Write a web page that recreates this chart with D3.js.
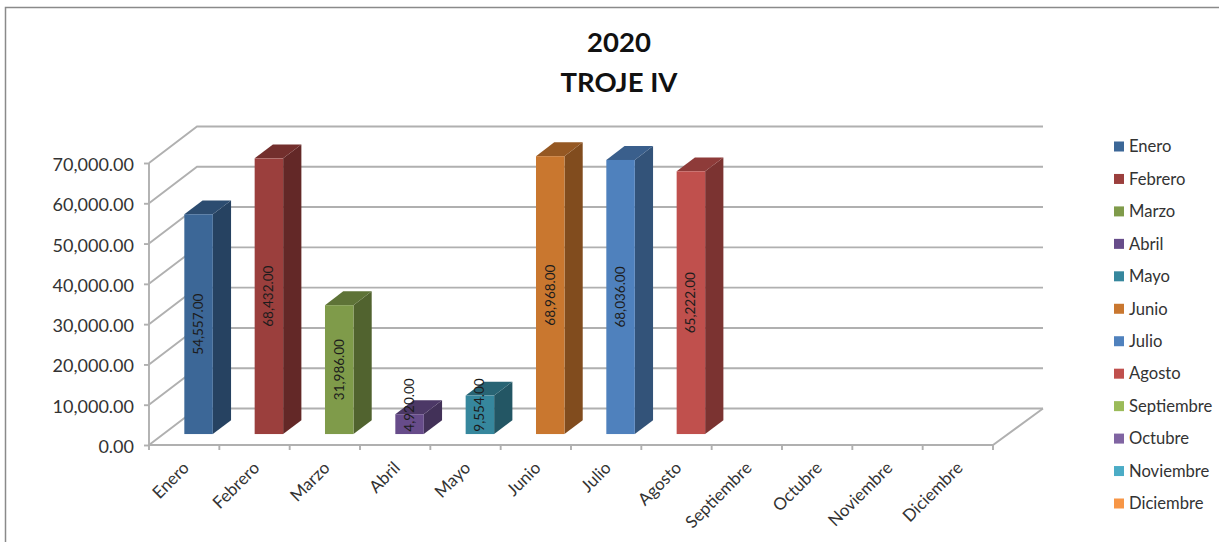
<!DOCTYPE html>
<html>
<head>
<meta charset="utf-8">
<script src="https://cdn.jsdelivr.net/npm/d3@7"></script>
<style>
    html, body { margin: 0; padding: 0; background: #fff; overflow: hidden; }
    svg { display: block; }
    text { font-family: Lato, "Open Sans", sans-serif; fill: #333; }
</style>
</head>
<body>
<svg id="chart" width="1219" height="542"></svg>
<script>
const titleLines = ["2020", "TROJE IV"];
const months = ["Enero", "Febrero", "Marzo", "Abril", "Mayo", "Junio", "Julio", "Agosto",
    "Septiembre", "Octubre", "Noviembre", "Diciembre"];
const values = [54557, 68432, 31986, 4920, 9554, 68968, 68036, 65222, null, null, null, null];
const yTicks = [0, 10000, 20000, 30000, 40000, 50000, 60000, 70000];
const colors = ["#3c6797", "#9b3f3d", "#7f9b4a", "#674c8a", "#36879d", "#c9772f",
    "#4f81bd", "#c0504d", "#9bbb59", "#8064a2", "#4bacc6", "#f79646"];

const svg = d3.select("#chart");
const gridColor = "#b0b0b0";
const gridWidth = 1.9;

// front plane of the 3d box, the back wall is this shifted by the depth
const x = d3.scaleBand().domain(months).range([149, 993]).paddingInner(0.595).paddingOuter(0.2975);
const y = d3.scaleLinear().domain([0, 70000]).range([445, 163]);
const depth = {x: 48, y: -36.5};
const barDepth = {start: 0.3, end: 0.68};
const wallRight = 1043;

// Frame of the pasted picture
svg.append("path")
    .attr("d", "M5.5,542V7.5H1219")
    .attr("fill", "none")
    .attr("stroke", "#8a8a8a")
    .attr("stroke-width", 1.5);

// Title
svg.selectAll(".title")
    .data(titleLines)
    .enter().append("text")
    .attr("class", "title")
    .attr("x", 619)
    .attr("y", (d, i) => 52 + i * 40)
    .attr("text-anchor", "middle")
    .attr("font-size", 27.5)
    .attr("font-weight", 700)
    .style("fill", "#111")
    .text(d => d);

// Back wall gridlines and the diagonals on the side wall
const grid = svg.append("g")
    .attr("fill", "none")
    .attr("stroke", gridColor)
    .attr("stroke-width", gridWidth);

grid.selectAll(".wall")
    .data(yTicks)
    .enter().append("polyline")
    .attr("class", "wall")
    .attr("points", d => [
        [149, y(d)],
        [149 + depth.x, y(d) + depth.y],
        [wallRight, y(d) + depth.y]
    ].join(" "));

// Floor edge on the right
grid.append("polyline")
    .attr("points", [
        [149, y(0)],
        [993, y(0)],
        [wallRight, y(0) + depth.y]
    ].join(" "));

// Y axis
const yAxis = svg.append("g")
    .attr("transform", "translate(149,0)")
    .call(d3.axisLeft(y).tickValues(yTicks).tickSize(5).tickPadding(10).tickFormat(d3.format(",.2f")));
yAxis.select(".domain").attr("stroke", gridColor).attr("stroke-width", gridWidth).attr("d", `M0,${y(70000)}V${y(0)}`);
yAxis.selectAll("line").attr("stroke", gridColor).attr("stroke-width", gridWidth);
yAxis.selectAll("text").attr("font-size", 18).attr("font-family", null).attr("dy", "0.42em");

// X axis: ticks sit between the categories
const step = x.step();
svg.append("g")
    .attr("stroke", gridColor)
    .attr("stroke-width", gridWidth)
    .selectAll("line")
    .data(d3.range(months.length + 1))
    .enter().append("line")
    .attr("x1", i => 149 + i * step)
    .attr("x2", i => 149 + i * step)
    .attr("y1", y(0))
    .attr("y2", y(0) + 5);

svg.selectAll(".month")
    .data(months)
    .enter().append("text")
    .attr("class", "month")
    .attr("text-anchor", "end")
    .attr("font-size", 17)
    .attr("transform", d => `translate(${x(d) + x.bandwidth() / 2 + 6},${y(0) + 24}) rotate(-45)`)
    .text(d => d);

// Bars
const bars = months
    .map((m, i) => ({month: m, value: values[i], color: colors[i]}))
    .filter(d => d.value !== null);

const shade = (c, k) => {
    const rgb = d3.rgb(c);
    return d3.rgb(rgb.r * k, rgb.g * k, rgb.b * k).formatHex();
};

const bar = svg.selectAll(".bar")
    .data(bars)
    .enter().append("g")
    .attr("class", "bar")
    .attr("transform", `translate(${barDepth.start * depth.x},${barDepth.start * depth.y})`);

const dx = (barDepth.end - barDepth.start) * depth.x;
const dy = (barDepth.end - barDepth.start) * depth.y;

bar.append("polygon")
    .attr("fill", d => shade(d.color, 0.64))
    .attr("points", d => {
        const r = x(d.month) + x.bandwidth();
        return [[r, y(d.value)], [r + dx, y(d.value) + dy], [r + dx, y(0) + dy], [r, y(0)]].join(" ");
    });

bar.append("polygon")
    .attr("fill", d => shade(d.color, 0.74))
    .attr("points", d => {
        const l = x(d.month);
        const r = l + x.bandwidth();
        const t = y(d.value);
        return [[l, t], [r, t], [r + dx, t + dy], [l + dx, t + dy]].join(" ");
    });

bar.append("rect")
    .attr("x", d => x(d.month))
    .attr("y", d => y(d.value))
    .attr("width", x.bandwidth())
    .attr("height", d => y(0) - y(d.value))
    .attr("fill", d => d.color);

// Data labels, short bars push the label up so it stays above the base
bar.append("text")
    .attr("text-anchor", "middle")
    .attr("font-size", 13.5)
    .style("fill", "#1c1c1c")
    .attr("transform", d => {
        const mid = Math.min((y(d.value) + y(0)) / 2, y(0) - 29);
        return `translate(${x(d.month) + x.bandwidth() / 2 + 4.5},${mid}) rotate(-90)`;
    })
    .text(d => d3.format(",.2f")(d.value));

// Legend
const legendY = d3.scalePoint().domain(months).range([146.5, 503.5]);
const legend = svg.selectAll(".legend")
    .data(months)
    .enter().append("g")
    .attr("class", "legend")
    .attr("transform", d => `translate(1114,${legendY(d)})`);

legend.append("rect")
    .attr("y", -5)
    .attr("width", 10)
    .attr("height", 10)
    .attr("fill", (d, i) => colors[i]);

legend.append("text")
    .attr("x", 15)
    .attr("dy", "0.35em")
    .attr("font-size", 16.6)
    .text(d => d);
</script>
</body>
</html>
